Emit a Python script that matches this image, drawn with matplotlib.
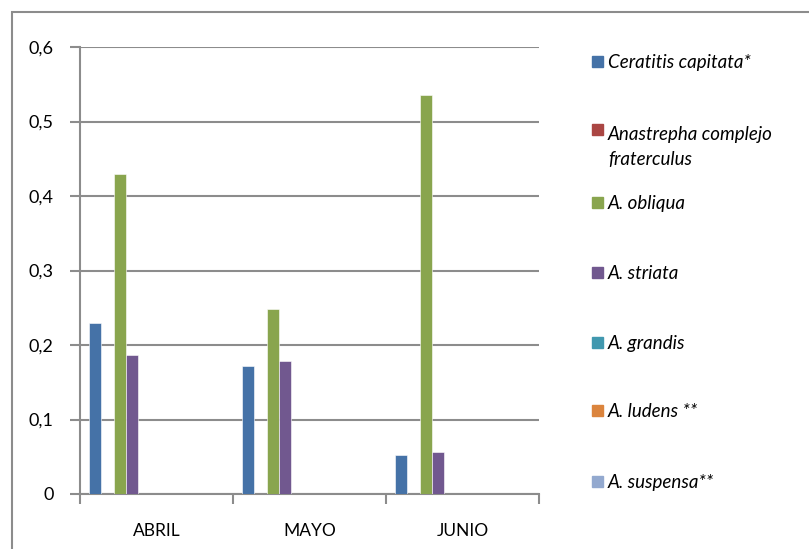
import matplotlib.pyplot as plt
from matplotlib.patches import Rectangle
import numpy as np

months = ['ABRIL', 'MAYO', 'JUNIO']
species = ['Ceratitis capitata*', 'Anastrepha complejo\nfraterculus', 'A. obliqua',
           'A. striata', 'A. grandis', 'A. ludens **', 'A. suspensa**']
ceratitis = [0.230, 0.172, 0.052]
anastrepha = [0, 0, 0]
obliqua = [0.429, 0.248, 0.535]
striata = [0.186, 0.179, 0.056]
grandis = [0, 0, 0]
ludens = [0, 0, 0]
suspensa = [0, 0, 0]
series = [ceratitis, anastrepha, obliqua, striata, grandis, ludens, suspensa]
colors = ['#4572A7', '#AA4643', '#89A54E', '#71588F', '#4198AF', '#DB843D', '#93A9CF']

plt.rcParams['font.family'] = ['Lato', 'DejaVu Sans']

W, H = 809, 549
fig = plt.figure(figsize=(W / 100, H / 100), dpi=100)
# outer chart frame
fig.patches.append(Rectangle((12 / W, -0.1), 1.2, (H - 12) / H + 0.1, transform=fig.transFigure,
                             fill=False, edgecolor='#8c8c8c', linewidth=1.5))

ax = fig.add_axes([80 / W, 1 - 494 / H, (539 - 80) / W, (494 - 47) / H])

# Excel-like slots: the chart reserves 11 slots per category, gap width 150%
n_slots = 11
w = 1 / (n_slots + 1.5)
x = np.arange(len(months))
for i, (vals, c) in enumerate(zip(series, colors)):
    ax.bar(x - 0.5 + 0.75 * w + (i + 0.5) * w, vals, width=w, color=c,
           edgecolor='white', linewidth=0.4, zorder=3)

ax.set_xlim(-0.5, 2.5)
ax.set_ylim(0, 0.6)
ax.set_yticks(np.arange(0, 0.61, 0.1))
ax.set_yticklabels(['0' if v == 0 else f'{v:.1f}'.replace('.', ',') for v in np.arange(0, 0.61, 0.1)],
                   fontsize=13)
ax.yaxis.grid(True, color='#8c8c8c', linewidth=1.5, zorder=0)
ax.set_xticks([-0.5, 0.5, 1.5, 2.5])
ax.set_xticklabels([])
ax.set_xticks(x, minor=True)
ax.set_xticklabels(months, minor=True, fontsize=12.5)
ax.tick_params(axis='x', which='minor', length=0, pad=21)
ax.tick_params(axis='x', which='major', length=7, width=1.5, color='#8c8c8c')
ax.tick_params(axis='y', length=7, width=1.5, color='#8c8c8c', pad=12)
for s in ['top', 'right']:
    ax.spines[s].set_visible(False)
for s in ['left', 'bottom']:
    ax.spines[s].set_color('#8c8c8c')
    ax.spines[s].set_linewidth(1.5)

# legend on the right (marker sits on the first text line)
ys = [62, 130, 203, 273, 343, 411, 482]
line_h = 29
for lab, c, y in zip(species, colors, ys):
    fig.patches.append(Rectangle((592 / W, 1 - (y + 5) / H), 11 / W, 11 / H,
                                 transform=fig.transFigure, color=c))
    extra = line_h * lab.count('\n')
    fig.text(608 / W, 1 - (y + 6 + extra) / H, lab, fontsize=13.5, style='italic',
             va='baseline', linespacing=1.55)

fig.savefig('out.png', dpi=100)
